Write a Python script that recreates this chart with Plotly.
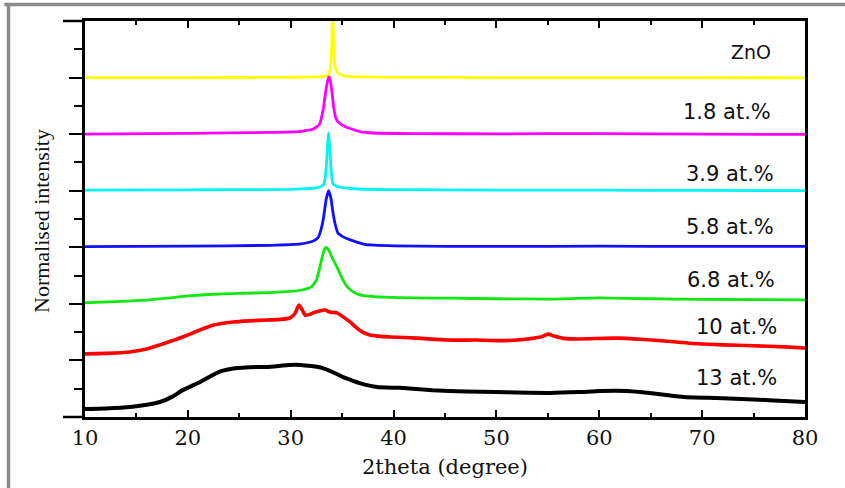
import plotly.graph_objects as go

# ---------------- data ----------------
zno_x = [10, 20, 30, 33.0, 33.6, 33.85, 34.0, 34.08, 34.16, 34.3, 34.6, 35.2, 36, 40, 50, 60, 70, 80]
zno_y = [12.0, 12.0, 12.01, 12.03, 12.08, 12.3, 13.3, 14.5, 13.4, 12.4, 12.15, 12.06, 12.03, 12.01, 12.0, 12.0, 12.0, 11.99]

s18_x = [10, 20, 28, 31, 32.2, 32.8, 33.15, 33.4, 33.6, 33.72, 33.85, 34.0, 34.2, 34.4, 34.7, 35.2, 35.8, 36.8, 38, 42, 50, 60, 70, 80]
s18_y = [10.0, 10.03, 10.06, 10.1, 10.18, 10.35, 10.85, 11.5, 11.9, 12.02, 11.9, 11.5, 10.9, 10.55, 10.4, 10.28, 10.2, 10.08, 10.04, 10.02, 10.01, 10.02, 10.0, 9.99]

s39_x = [10, 20, 30, 32.5, 33.2, 33.45, 33.58, 33.68, 33.78, 33.92, 34.1, 34.5, 35.3, 36.5, 40, 50, 60, 70, 80]
s39_y = [8.02, 8.03, 8.05, 8.1, 8.22, 8.8, 9.6, 10.05, 9.6, 8.8, 8.25, 8.15, 8.1, 8.06, 8.04, 8.02, 8.02, 8.01, 8.0]

s58_x = [10, 20, 28, 31, 32.2, 32.65, 33.0, 33.2, 33.45, 33.68, 33.9, 34.08, 34.3, 34.6, 35.2, 35.8, 37.2, 40, 50, 60, 70, 80]
s58_y = [6.02, 6.04, 6.07, 6.12, 6.22, 6.33, 6.7, 7.07, 7.7, 8.0, 7.75, 7.3, 6.85, 6.5, 6.35, 6.26, 6.1, 6.05, 6.03, 6.04, 6.03, 6.03]

s68_x = [10, 13, 16, 18, 20, 22, 25, 28, 30, 31.1, 32.0, 32.5, 32.9, 33.2, 33.4, 33.7, 34.0, 34.5, 35.0, 35.5, 36.0, 36.7, 38, 39, 42, 45.5, 50, 55, 60, 65, 70, 75, 80]
s68_y = [4.04, 4.08, 4.13, 4.2, 4.28, 4.33, 4.37, 4.4, 4.44, 4.49, 4.6, 4.85, 5.4, 5.85, 6.0, 5.9, 5.65, 5.3, 4.9, 4.6, 4.44, 4.32, 4.26, 4.24, 4.21, 4.2, 4.18, 4.17, 4.21, 4.18, 4.16, 4.15, 4.14]

s10_x = [10, 12, 14.4, 16, 17.3, 18.5, 19.5, 21, 22.5, 24.4, 26, 27.7, 29.0, 29.9, 30.4, 30.8, 31.1, 31.4, 31.8, 32.3, 32.8, 33.3, 33.8, 34.5, 35.1, 35.8, 36.4, 37.0, 37.7, 38.5, 39.7, 42.3, 45.2, 48, 50, 52, 53.5, 54.5, 55.0, 55.6, 56.5, 58, 61.7, 64, 67.5, 69.1, 72, 75, 78, 80]
s10_y = [2.23, 2.25, 2.3, 2.4, 2.55, 2.7, 2.83, 3.05, 3.25, 3.36, 3.4, 3.43, 3.45, 3.5, 3.65, 3.96, 3.8, 3.6, 3.62, 3.7, 3.75, 3.78, 3.71, 3.68, 3.54, 3.35, 3.15, 3.0, 2.9, 2.86, 2.83, 2.79, 2.72, 2.72, 2.7, 2.72, 2.78, 2.85, 2.93, 2.86, 2.78, 2.76, 2.79, 2.75, 2.65, 2.6, 2.55, 2.52, 2.48, 2.44]

s13_x = [10, 12, 14.4, 16, 17.3, 18.5, 19.5, 21.2, 23.1, 24.8, 26, 27.7, 29.9, 30.9, 32, 33.1, 34, 35.1, 35.9, 36.7, 38.4, 40.6, 43.8, 47, 50, 55.2, 58, 60.1, 62.7, 64.9, 66.5, 68.2, 71.4, 75, 78, 80]
s13_y = [0.28, 0.3, 0.35, 0.43, 0.53, 0.72, 0.95, 1.24, 1.6, 1.73, 1.76, 1.77, 1.84, 1.84, 1.8, 1.73, 1.6, 1.41, 1.3, 1.2, 1.06, 1.03, 0.95, 0.9, 0.88, 0.85, 0.88, 0.92, 0.92, 0.85, 0.78, 0.71, 0.67, 0.62, 0.57, 0.53]

labels = ["ZnO", "1.8 at.%", "3.9 at.%", "5.8 at.%", "6.8 at.%", "10 at.%", "13 at.%"]
label_y = [12.9, 10.8, 8.6, 6.7, 4.85, 3.18, 1.38]
label_x = [76.9, 76.9, 77.2, 77.2, 77.3, 77.5, 77.5]

x_ticks = [10, 20, 30, 40, 50, 60, 70, 80]

# ---------------- figure ----------------
series = [
    (zno_x, zno_y, "#ffff00", 2.8),
    (s18_x, s18_y, "#ff00ff", 2.8),
    (s39_x, s39_y, "#00f4f4", 2.8),
    (s58_x, s58_y, "#1010ff", 2.8),
    (s68_x, s68_y, "#10e810", 2.8),
    (s10_x, s10_y, "#ff0000", 3.6),
    (s13_x, s13_y, "#000000", 4.0),
]

fig = go.Figure()
for xs, ys, col, w in series:
    fig.add_trace(go.Scatter(x=xs, y=ys, mode="lines",
                             line=dict(color=col, width=w, shape="spline", smoothing=0.5),
                             showlegend=False, hoverinfo="skip"))

for t, lx, ly, fs in zip(labels, label_x, label_y, [19, 21, 21, 21, 21, 21, 21]):
    fig.add_annotation(x=lx, y=ly, xref="x", yref="y", text=t, showarrow=False,
                       xanchor="right", yanchor="middle",
                       font=dict(family="DejaVu Sans", size=fs, color="#111"))

# axis titles
fig.add_annotation(x=0.5, y=-0.1263, xref="paper", yref="paper", text="2theta (degree)",
                   showarrow=False, xanchor="center", yanchor="middle",
                   font=dict(family="DejaVu Serif", size=21, color="#111"))
fig.add_annotation(x=-0.0597, y=0.495, xref="paper", yref="paper", text="Normalised intensity",
                   showarrow=False, textangle=-90, xanchor="center", yanchor="middle",
                   font=dict(family="Liberation Serif", size=22, color="#111"))

# extended end ticks on the y axis
for yy in (0, 1):
    fig.add_shape(type="line", xref="paper", yref="paper", x0=-0.0306, x1=0, y0=yy, y1=yy,
                  line=dict(color="black", width=2.5))

# grey frame of the picture
fig.add_shape(type="line", xref="paper", yref="paper", x0=-0.112, x1=1.06, y0=1.0417, y1=1.0417,
              line=dict(color="#8a8a8a", width=3.5))
fig.add_shape(type="line", xref="paper", yref="paper", x0=-0.10625, x1=-0.10625, y0=-0.2, y1=1.0417,
              line=dict(color="#8a8a8a", width=3.5))

fig.update_layout(
    width=845, height=488,
    margin=dict(l=85, r=40, t=21, b=71),
    paper_bgcolor="white", plot_bgcolor="white",
    xaxis=dict(range=[10, 80], tickvals=x_ticks, ticktext=[str(v) for v in x_ticks],
               ticks="inside", ticklen=7, tickwidth=2, tickcolor="black",
               minor=dict(dtick=5, tick0=5, ticks="inside", ticklen=4, tickwidth=2, tickcolor="black"),
               showline=True, linecolor="black", linewidth=2.8, mirror="ticks",
               showgrid=False, zeroline=False,
               tickfont=dict(family="DejaVu Serif", size=21, color="#111")),
    yaxis=dict(range=[0, 14], tick0=0, dtick=2, showticklabels=False,
               ticks="outside", ticklen=13, tickwidth=2, tickcolor="black",
               minor=dict(dtick=1, tick0=0, ticks="outside", ticklen=8, tickwidth=2, tickcolor="black"),
               showline=True, linecolor="black", linewidth=2.8, mirror=True,
               showgrid=False, zeroline=False),
)

fig.write_html("out.html")
